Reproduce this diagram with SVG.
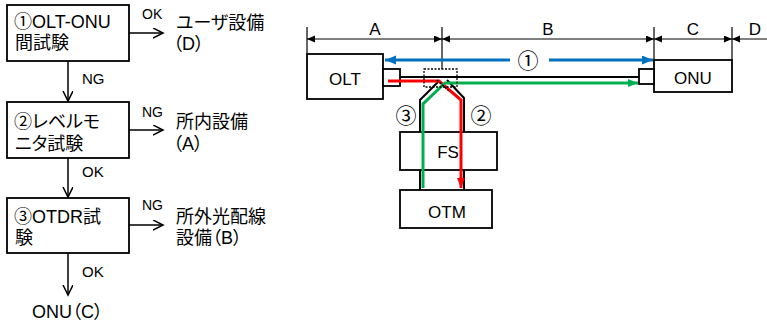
<svg xmlns="http://www.w3.org/2000/svg" width="767" height="323" viewBox="0 0 767 323">
<style>
text{font-family:"Liberation Sans","Noto Sans CJK JP",sans-serif;fill:#000;font-feature-settings:"palt"}
.c{font-family:"Noto Sans CJK JP",sans-serif;font-feature-settings:normal}
.t{font-size:18px}
.s{font-size:14px}
.m{font-size:15px}
.r{font-size:17px;text-anchor:middle}
.n{font-size:21px;text-anchor:middle;font-family:"Noto Sans CJK JP",sans-serif;font-feature-settings:normal}
.box{fill:#fff;stroke:#000;stroke-width:1.8}
.ln{fill:none;stroke:#000;stroke-width:1.5}
.dim{fill:none;stroke:#000;stroke-width:1.2}
.blue{fill:none;stroke:#0070C0;stroke-width:3}
.red{fill:none;stroke:#FF0000;stroke-width:3}
.green{fill:none;stroke:#00B050;stroke-width:3}
.blk{fill:none;stroke:#000;stroke-width:2}
</style>
<defs>
<marker id="v" markerUnits="userSpaceOnUse" markerWidth="12" markerHeight="12" refX="10" refY="5" orient="auto"><path d="M0,0 L10,5 L0,10" fill="none" stroke="#000" stroke-width="1.5"/></marker>
<marker id="tri" markerUnits="userSpaceOnUse" markerWidth="10" markerHeight="8" refX="8" refY="3.5" orient="auto-start-reverse"><path d="M0,0 L8,3.5 L0,7 z" fill="#000"/></marker>
<marker id="ab" markerUnits="userSpaceOnUse" markerWidth="12" markerHeight="10" refX="11" refY="4.5" orient="auto"><path d="M0,0 L11,4.5 L0,9 z" fill="#0070C0"/></marker>
<marker id="ar" markerUnits="userSpaceOnUse" markerWidth="12" markerHeight="10" refX="10" refY="4" orient="auto"><path d="M0,0 L10,4 L0,8 z" fill="#FF0000"/></marker>
<marker id="ag" markerUnits="userSpaceOnUse" markerWidth="12" markerHeight="10" refX="10" refY="4" orient="auto"><path d="M0,0 L10,4 L0,8 z" fill="#00B050"/></marker>
</defs>

<!-- Flowchart -->
<g id="step1"><rect class="box" x="7" y="5" width="122" height="56"/><text class="t" x="14" y="28"><tspan class="c">①</tspan>OLT-ONU</text><text class="t" x="15" y="49">間試験</text></g>
<g id="step2"><rect class="box" x="7" y="102" width="122" height="56"/><text class="t" x="14" y="128"><tspan class="c">②</tspan>レベルモ</text><text class="t" x="15" y="150">ニタ試験</text></g>
<g id="step3"><rect class="box" x="7" y="198" width="122" height="55"/><text class="t" x="14" y="223"><tspan class="c">③</tspan>OTDR試</text><text class="t" x="15" y="244">験</text></g>
<g id="resD"><text class="t" x="176" y="29">ユーザ設備</text><text class="t" x="173" y="50">（D）</text></g>
<g id="resA"><text class="t" x="176" y="128">所内設備</text><text class="t" x="173" y="150">（A）</text></g>
<g id="resB"><text class="t" x="176" y="223">所外光配線</text><text class="t" x="176" y="244">設備（B）</text></g>
<g id="resC"><text class="t" x="32" y="318">ONU（C）</text></g>

<g id="flow-connectors">
<line class="ln" x1="129" y1="33" x2="163" y2="33" marker-end="url(#v)"/>
<line class="ln" x1="129" y1="130" x2="163" y2="130" marker-end="url(#v)"/>
<line class="ln" x1="129" y1="225" x2="163" y2="225" marker-end="url(#v)"/>
<line class="ln" x1="68" y1="61" x2="68" y2="101" marker-end="url(#v)"/>
<line class="ln" x1="68" y1="158" x2="68" y2="197" marker-end="url(#v)"/>
<line class="ln" x1="68" y1="253" x2="68" y2="295" marker-end="url(#v)"/>
<text class="s" x="142" y="19">OK</text>
<text class="s" x="142" y="117">NG</text>
<text class="s" x="142" y="210">NG</text>
<text class="m" x="82" y="84">NG</text>
<text class="m" x="82" y="177">OK</text>
<text class="m" x="82" y="277">OK</text>
</g>

<!-- Right diagram: dimensions -->
<g id="dimensions">
<line class="dim" x1="307" y1="27" x2="307" y2="54"/>
<line class="dim" x1="442" y1="27" x2="442" y2="69"/>
<line class="dim" x1="654" y1="27" x2="654" y2="60"/>
<line class="dim" x1="732" y1="27" x2="732" y2="60"/>
<line class="dim" x1="307" y1="39" x2="442" y2="39" marker-start="url(#tri)" marker-end="url(#tri)"/>
<line class="dim" x1="442" y1="39" x2="654" y2="39" marker-start="url(#tri)" marker-end="url(#tri)"/>
<line class="dim" x1="654" y1="39" x2="732" y2="39" marker-start="url(#tri)" marker-end="url(#tri)"/>
<line class="dim" x1="732" y1="39" x2="767" y2="39" marker-start="url(#tri)"/>
<text class="r" x="375" y="35">A</text>
<text class="r" x="548" y="35">B</text>
<text class="r" x="693" y="35">C</text>
<text class="r" x="755" y="35">D</text>
</g>

<g id="OLT"><rect class="box" x="307" y="54" width="76" height="45"/><rect class="box" x="383" y="69" width="17" height="17"/><text class="r" x="345" y="85">OLT</text></g>
<g id="ONU"><rect class="box" x="654" y="60" width="78" height="32"/><rect class="box" x="639" y="69" width="15" height="15"/><text class="r" x="693" y="84">ONU</text></g>
<g id="FS"><rect class="box" x="400" y="132" width="97" height="38"/><text class="r" x="448" y="158">FS</text></g>
<g id="OTM"><rect class="box" x="400" y="190" width="92" height="38"/><text class="r" x="447" y="218">OTM</text></g>

<g id="connectors">
<line class="blk" x1="400" y1="77" x2="639" y2="77"/>
<path class="blk" d="M420,132 V100 L438,82"/>
<path class="blk" d="M447,80 L464,98 V132"/>
<line class="blk" x1="420" y1="170" x2="420" y2="190"/>
<line class="blk" x1="464" y1="170" x2="464" y2="190"/>
<line class="blue" x1="510" y1="60" x2="385" y2="60" marker-end="url(#ab)"/>
<line class="blue" x1="549" y1="60" x2="653" y2="60" marker-end="url(#ab)"/>
<path class="red" d="M388,81 H439 L461,100 V188" marker-end="url(#ar)"/>
<path class="green" d="M423,188 V104 L445,83 H638" marker-end="url(#ag)"/>
<rect x="424" y="69" width="33" height="18" fill="none" stroke="#000" stroke-width="1.3" stroke-dasharray="2 1.5"/>
<line x1="437" y1="80" x2="449" y2="91" stroke="#000" stroke-width="1.5" stroke-dasharray="2 1.5"/>
<text class="n" x="528" y="68">①</text>
<text class="n" x="406" y="123">③</text>
<text class="n" x="481" y="123">②</text>
</g>
</svg>
